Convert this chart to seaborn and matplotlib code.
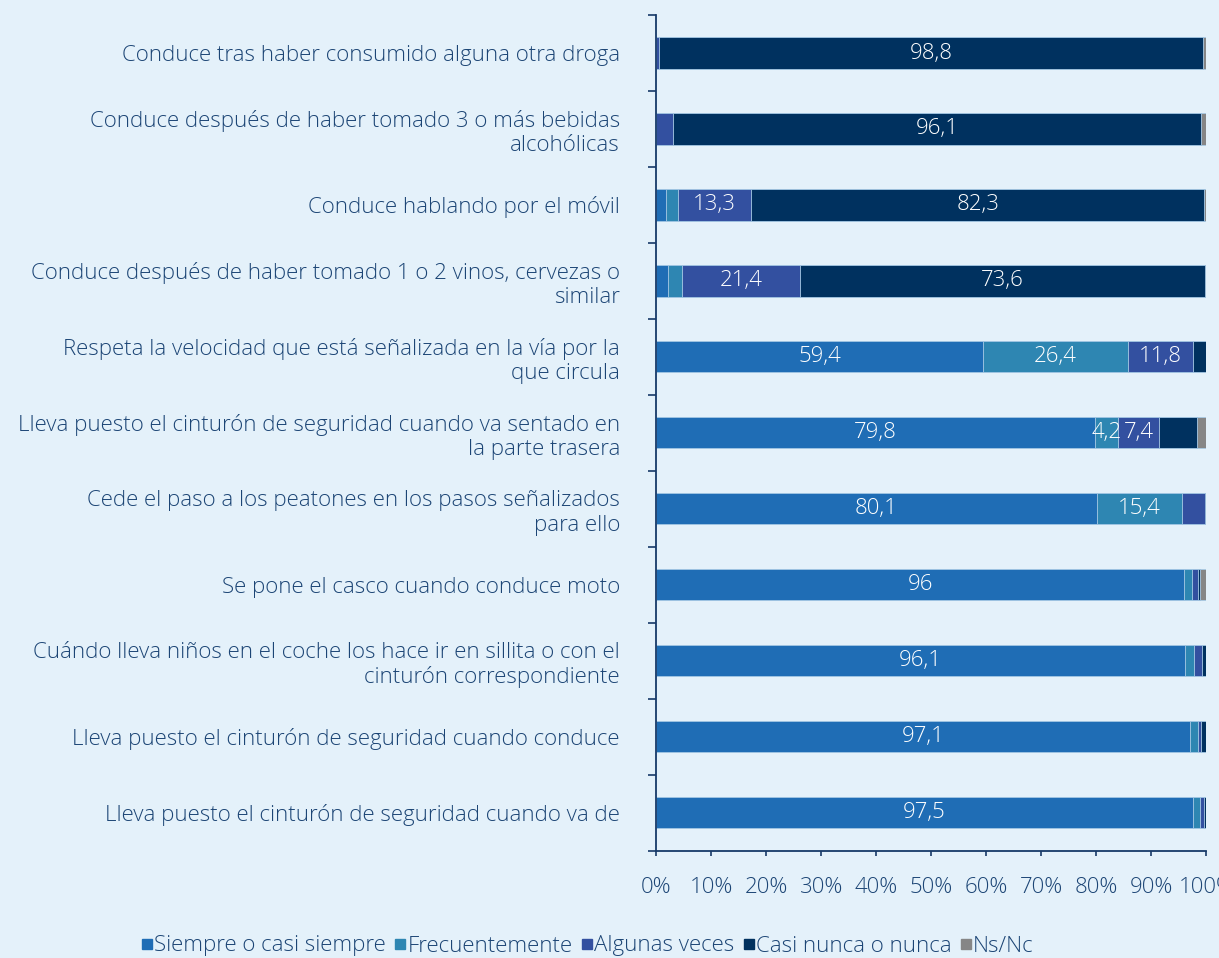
import numpy as np
import pandas as pd
import matplotlib
matplotlib.use("Agg")
import matplotlib.pyplot as plt
from matplotlib.lines import Line2D
import seaborn as sns

# Survey items (top to bottom)
items = [
    "Conduce tras haber consumido alguna otra droga",
    "Conduce después de haber tomado 3 o más bebidas\nalcohólicas",
    "Conduce hablando por el móvil",
    "Conduce después de haber tomado 1 o 2 vinos, cervezas o\nsimilar",
    "Respeta la velocidad que está señalizada en la vía por la\nque circula",
    "Lleva puesto el cinturón de seguridad cuando va sentado en\nla parte trasera",
    "Cede el paso a los peatones en los pasos señalizados\npara ello",
    "Se pone el casco cuando conduce moto",
    "Cuándo lleva niños en el coche los hace ir en sillita o con el\ncinturón correspondiente",
    "Lleva puesto el cinturón de seguridad cuando conduce",
    "Lleva puesto el cinturón de seguridad cuando va de",
]

# Response shares (%)
siempre = [0.0, 0.0, 1.8, 2.1, 59.4, 79.8, 80.1, 96.0, 96.1, 97.1, 97.5]
frecuentemente = [0.0, 0.0, 2.2, 2.6, 26.4, 4.2, 15.4, 1.4, 1.6, 1.3, 1.4]
algunas_veces = [0.6, 3.0, 13.3, 21.4, 11.8, 7.4, 4.3, 1.1, 1.5, 0.7, 0.7]
casi_nunca = [98.8, 96.1, 82.3, 73.6, 2.4, 6.9, 0.2, 0.3, 0.7, 0.9, 0.4]
ns_nc = [0.6, 0.9, 0.4, 0.3, 0.0, 1.7, 0.0, 1.2, 0.1, 0.0, 0.0]

series_names = ["Siempre o casi siempre", "Frecuentemente", "Algunas veces",
                "Casi nunca o nunca", "Ns/Nc"]
series_values = [siempre, frecuentemente, algunas_veces, casi_nunca, ns_nc]
series_colors = ["#1f6db5", "#2e86b2", "#3350a0", "#00315f", "#868686"]

# Rows whose segment carries a value label, per response
labelled_rows = {
    "Siempre o casi siempre": [4, 5, 6, 7, 8, 9, 10],
    "Frecuentemente": [4, 5, 6],
    "Algunas veces": [2, 3, 4, 5],
    "Casi nunca o nunca": [0, 1, 2, 3],
    "Ns/Nc": [],
}

xticks = list(range(0, 101, 10))
xtick_labels = [f"{t}%" for t in xticks]

BG = "#e4f1fa"
TEXT = "#1c4575"
AXIS = "#173a68"
FONT = ["Open Sans", "DejaVu Sans"]
FS_LABEL = 16
FS_NUM = 16

sns.set_theme(style="white")
plt.rcParams["font.family"] = FONT
plt.rcParams["font.weight"] = "light"

fig = plt.figure(figsize=(12.19, 9.58), dpi=100, facecolor=BG)
ax = fig.add_axes([0.5382, 0.112, 0.4515, 0.8723], facecolor=BG)

vals = np.array(series_values)          # shape (series, rows)
cum = np.cumsum(vals, axis=0)

# Stacked bars: draw cumulative totals from the outermost segment inwards
for i in reversed(range(len(series_names))):
    df = pd.DataFrame({"item": items, "total": cum[i]})
    sns.barplot(data=df, x="total", y="item", order=items, orient="h",
                color=series_colors[i], saturation=1, width=0.41,
                edgecolor="#a9cbe6", linewidth=0.6, ax=ax)

# Value labels centred in their segments
for i, name in enumerate(series_names):
    start = cum[i] - vals[i]
    for r in labelled_rows[name]:
        v = vals[i][r]
        txt = f"{v:g}".replace(".", ",")
        ax.text(start[r] + v / 2, r, txt, ha="center", va="center",
                color="white", fontsize=FS_NUM, fontweight="light")

ax.set_xlim(0, 100)
ax.set_ylim(len(items) - 0.5, -0.5)
ax.set_xlabel("")
ax.set_ylabel("")

ax.set_xticks(xticks, labels=xtick_labels)
ax.set_yticks(np.arange(-0.5, len(items), 1.0), labels=[])
ax.set_yticks(range(len(items)), labels=items, minor=True)

ax.tick_params(axis="x", which="major", direction="out", length=3.6,
               width=1.2, color=AXIS, pad=15, labelsize=FS_NUM,
               labelcolor=TEXT, bottom=True)
ax.tick_params(axis="y", which="major", direction="out", length=5.8,
               width=1.2, color=AXIS, left=True)
ax.tick_params(axis="y", which="minor", length=0, pad=26, labelsize=FS_LABEL,
               labelcolor=TEXT, left=True)

for side in ["top", "right"]:
    ax.spines[side].set_visible(False)
for side in ["left", "bottom"]:
    ax.spines[side].set_color(AXIS)
    ax.spines[side].set_linewidth(1.3)
ax.grid(False)

handles = [Line2D([], [], marker="s", linestyle="", color=c, markersize=6.5)
           for c in series_colors]
fig.legend(handles, series_names, loc="center", ncol=5,
           bbox_to_anchor=(588 / 1219, 1 - 946 / 958), frameon=False,
           fontsize=FS_LABEL, labelcolor=TEXT, handlelength=0.4,
           handletextpad=0.12, columnspacing=0.45, borderaxespad=0)

fig.savefig("out.png", dpi=100, facecolor=BG)
